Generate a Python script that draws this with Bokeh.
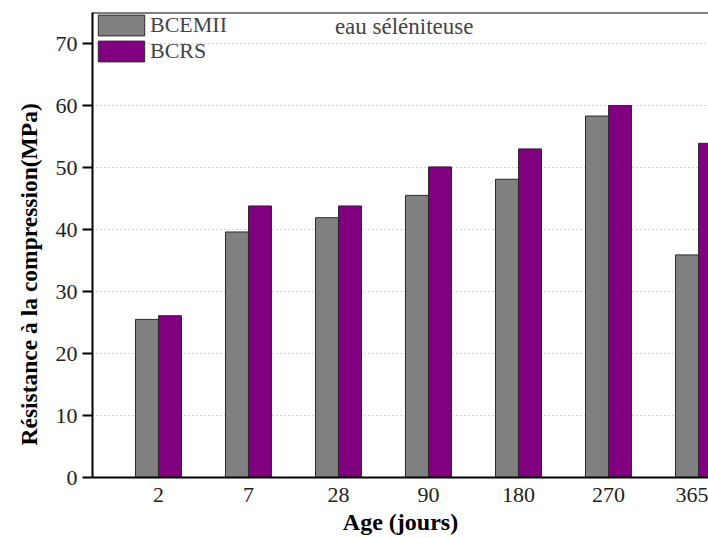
from bokeh.plotting import figure
from bokeh.models import Range1d, FixedTicker, Span, Label, Legend, LegendItem, Title
from bokeh.embed import file_html
from bokeh.resources import INLINE

ages = ["2", "7", "28", "90", "180", "270", "365"]
bcemii = [25.5, 39.6, 41.9, 45.5, 48.1, 58.3, 35.9]
bcrs = [26.1, 43.8, 43.8, 50.1, 53.0, 60.0, 53.9]

FONT = "Liberation Serif"
idx = list(range(len(ages)))
off = 0.128
w = 0.255

p = figure(width=708, height=538, output_backend="svg", toolbar_location=None,
           x_range=Range1d(-0.733, 6.111), y_range=Range1d(0, 75))
p.min_border_top = 12
p.min_border_right = 0
p.min_border_left = 92
p.min_border_bottom = 61
p.outline_line_color = None
p.background_fill_color = "white"

g = p.vbar(x=[i - off for i in idx], top=bcemii, width=w, fill_color="#808080",
           line_color="#2a2a2a", line_width=1)
pu = p.vbar(x=[i + off for i in idx], top=bcrs, width=w, fill_color="#800080",
            line_color="#2a2a2a", line_width=1)

p.add_layout(Span(location=75, dimension="width", line_color="black", line_width=2))

p.xaxis.ticker = FixedTicker(ticks=idx)
p.xaxis.major_label_overrides = {i: a for i, a in zip(idx, ages)}
p.xaxis.major_tick_line_color = None
p.xaxis.minor_tick_line_color = None
p.xaxis.major_label_standoff = 4
p.yaxis.ticker = FixedTicker(ticks=[0, 10, 20, 30, 40, 50, 60, 70])
p.yaxis.minor_tick_line_color = None
p.yaxis.major_tick_out = 10
p.yaxis.major_tick_in = 0
p.yaxis.major_tick_line_width = 2
p.yaxis.major_label_standoff = 5
for ax in (p.xaxis, p.yaxis):
    ax.axis_line_width = 2
    ax.axis_line_color = "black"
    ax.major_label_text_font = FONT
    ax.major_label_text_font_size = "22px"
    ax.major_label_text_color = "#222222"
    ax.axis_label_text_font = FONT
    ax.axis_label_text_font_style = "bold"
    ax.axis_label_text_color = "black"
p.xaxis.axis_label = "Age (jours)"
p.xaxis.axis_label_text_font_size = "24px"
p.xaxis.axis_label_standoff = 4

ytitle = Title(text="Résistance à la compression(MPa)", align="left", offset=32,
               text_font=FONT, text_font_size="23.5px", text_font_style="bold",
               text_color="black", standoff=21)
p.add_layout(ytitle, "left")

p.xgrid.grid_line_color = None
p.ygrid.grid_line_color = "#aaaaaa"
p.ygrid.grid_line_dash = "1 3"
p.ygrid.grid_line_width = 1

legend = Legend(items=[LegendItem(label="BCEMII", renderers=[g]),
                       LegendItem(label="BCRS", renderers=[pu])],
                location="top_left")
legend.label_text_font = FONT
legend.label_text_font_size = "22px"
legend.glyph_width = 58
legend.glyph_height = 26
legend.label_height = 26
legend.spacing = 0
legend.padding = 2
legend.margin = 0
legend.label_standoff = 0
legend.border_line_color = None
legend.background_fill_alpha = 0
p.add_layout(legend)

p.add_layout(Label(x=2.73, y=72.7, x_units="data", y_units="data", text="eau séléniteuse",
                   text_font=FONT, text_font_size="23px", text_baseline="middle",
                   text_align="center"))

open("out.html", "w").write(file_html(p, INLINE))
